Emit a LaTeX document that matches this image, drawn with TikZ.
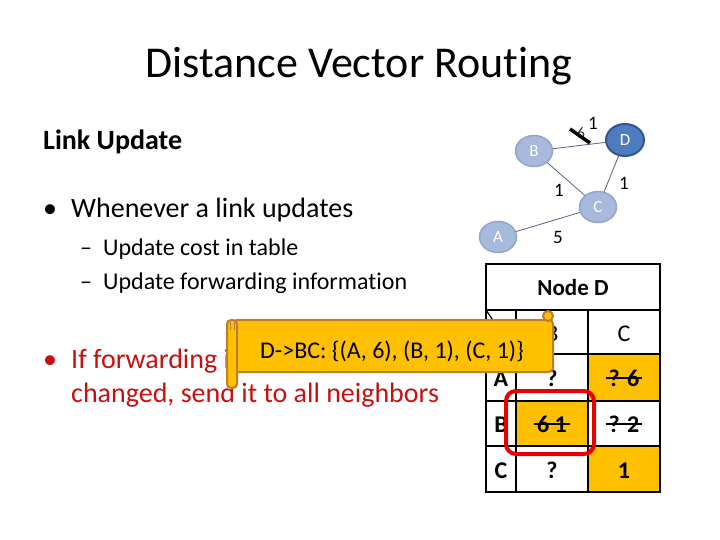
\documentclass[tikz,border=0pt]{standalone}
\usepackage{fontspec}
\setmainfont{Carlito}[Ligatures={NoCommon}]
\usetikzlibrary{shapes.geometric}
\definecolor{lnode}{RGB}{167,186,220}
\definecolor{lnodeb}{RGB}{146,166,205}
\definecolor{dnode}{RGB}{79,124,192}
\definecolor{dnodeb}{RGB}{50,86,145}
\definecolor{edgec}{RGB}{85,100,125}
\definecolor{orng}{RGB}{255,192,0}
\definecolor{scrollb}{RGB}{190,125,40}
\definecolor{redtxt}{RGB}{200,16,16}
\definecolor{redbox}{RGB}{232,0,0}
\newcommand\fsz[1]{\fontsize{#1}{#1}\selectfont}
\begin{document}
\begin{tikzpicture}[x=1pt,y=-1pt,
  txt/.style={inner sep=0pt,anchor=base west},
  lnd/.style={ellipse,fill=lnode,draw=lnodeb,line width=1.5pt,minimum width=37pt,minimum height=31pt,inner sep=0pt,text=white,font=\fsz{17}},
  dnd/.style={ellipse,fill=dnode,draw=dnodeb,line width=2pt,minimum width=38pt,minimum height=32pt,inner sep=0pt,text=white,font=\fsz{17}},
  edg/.style={draw=edgec,line width=0.8pt},
  elbl/.style={inner sep=0pt,font=\fsz{19}},
  tline/.style={line width=1.8pt,black},
  cell/.style={inner sep=0pt,anchor=base,font=\fsz{24}\bfseries},
  hcell/.style={inner sep=0pt,anchor=base,font=\fsz{24}},
  strike/.style={line width=1.6pt,black},
  scroll/.style={fill=orng,draw=scrollb,line width=2pt}]
\useasboundingbox (0,0) rectangle (720,540);

% title and text
\node[inner sep=0pt,anchor=base] (title) at (359,78) {\fsz{44}Distance Vector Routing};
\node[txt] (lu) at (43,150) {\fsz{28}\bfseries Link Update};
\node[txt] (b1) at (43,218) {\fsz{28}•};
\node[txt] (t1) at (71,218) {\fsz{28}Whenever a link updates};
\node[txt] (d1) at (80,255) {\fsz{24}–};
\node[txt] (t2) at (103,255) {\fsz{24}Update cost in table};
\node[txt] (d2) at (80,289) {\fsz{24}–};
\node[txt] (t3) at (103,289) {\fsz{24}Update forwarding information};
\node[txt,text=redtxt] (b2) at (43,368) {\fsz{28}•};
\node[txt,text=redtxt] (t4) at (71,368) {\fsz{28}If forwarding information};
\node[txt,text=redtxt] (t5) at (71,402) {\fsz{28}changed, send it to all neighbors};

% graph
\node[lnd] (B) at (534,151) {B};
\node[dnd] (D) at (625,140) {D};
\node[lnd] (C) at (598,207) {C};
\node[lnd] (A) at (498,237) {A};
\draw[edg] (B) -- (D);
\draw[edg] (B) -- (C);
\draw[edg] (C) -- (D);
\draw[edg] (A) -- (C);
\node[elbl,font=\fsz{16},text=black!80] (six) at (581,133) {6};
\draw[line width=3.5pt] ([shift={(-11,-4)}]six.center) -- ([shift={(9,10)}]six.center);
\node[elbl] (l1) at (593,123) {1};
\node[elbl] (l2) at (559,190) {1};
\node[elbl] (l3) at (624,183) {1};
\node[elbl] (l4) at (558,237) {5};

% table
\fill[orng] (588,354) rectangle (660,401);
\fill[orng] (516,401) rectangle (588,446);
\fill[orng] (588,446) rectangle (660,492);
\draw[tline] (486,264) rectangle (660,492);
\draw[tline] (486,310) -- (660,310);
\draw[tline] (486,354) -- (660,354);
\draw[tline] (486,401) -- (660,401);
\draw[tline] (486,446) -- (660,446);
\draw[tline] (516,310) -- (516,492);
\draw[tline] (588,310) -- (588,492);
\draw[line width=1.2pt] (486,310) -- (516,354);
\node[inner sep=0pt,anchor=base,font=\fsz{23}\bfseries] (nd) at (573,295) {Node D};
\node[hcell] (hB) at (552,341) {B};
\node[hcell] (hC) at (624,341) {C};
\node[cell] (rA) at (501,386) {A};
\node[cell] (rB) at (501,432) {B};
\node[cell] (rC) at (501,478) {C};
\node[cell] (AB) at (552,386) {?};
\node[cell] (AC) at (624,386) {? 6};
\node[cell] (BB) at (552,432) {6 1};
\node[cell] (BC) at (624,432) {? 2};
\node[cell] (CB) at (552,478) {?};
\node[cell] (CC) at (624,478) {1};
\draw[strike] ([shift={(-3,-8)}]AC.base west) -- ([shift={(3,-8)}]AC.base east);
\draw[strike] ([shift={(-3,-8)}]BB.base west) -- ([shift={(3,-8)}]BB.base east);
\draw[strike] ([shift={(-3,-8)}]BC.base west) -- ([shift={(3,-8)}]BC.base east);
\draw[redbox,line width=4pt,rounded corners=10pt] (506,391) rectangle (594,454);

% scroll callout
\draw[scroll,rounded corners=4pt] (233,320) -- (553,320) -- (553,372) -- (233,372) -- cycle;
\draw[scroll] (548,316) circle (5pt);
\draw[scroll,rounded corners=4pt] (227,320) rectangle (237,388);
\draw[scrollb,line width=1pt] (230,322) -- (230,330) (234,322) -- (234,330);
\node[inner sep=0pt,anchor=base,font=\fsz{24}] (msg) at (392,358) {D->BC: \{(A, 6), (B, 1), (C, 1)\}};
\end{tikzpicture}
\end{document}
